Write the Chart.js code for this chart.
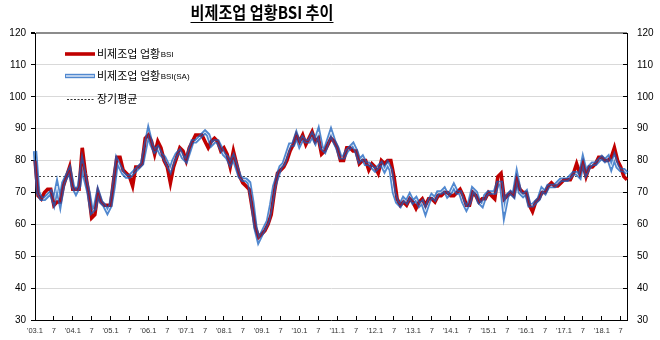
<!DOCTYPE html>
<html>
<head>
<meta charset="utf-8">
<script src="https://cdn.jsdelivr.net/npm/chart.js@4.4.1/dist/chart.umd.min.js"></script>
<style>
  html, body { margin: 0; padding: 0; background: #ffffff; }
  #wrap { width: 660px; height: 340px; position: relative; }
</style>
</head>
<body>
<div id="wrap"><canvas id="bsiChart" width="660" height="340"></canvas></div>
<script>
// Monthly series, Jan 2003 .. Sep 2018
const startYear = 2003;
const titleText = '비제조업 업황BSI 추이';

// 비제조업 업황BSI (original)
const bsi = [
  80, 69, 68, 70, 71, 71, 66, 67, 67, 72, 75, 78,   // 2003
  71, 71, 71, 84, 76, 70, 62, 63, 70, 67, 66, 66,   // 2004
  66, 74, 81, 81, 77, 76, 75, 72, 78, 78, 79, 87,   // 2005
  88, 86, 82, 86, 84, 80, 78, 73, 78, 81, 84, 83,   // 2006
  80, 84, 86, 88, 88, 88, 86, 84, 86, 87, 86, 83,   // 2007
  84, 82, 78, 83, 79, 75, 73, 72, 71, 65, 59, 56,   // 2008
  57, 58, 60, 63, 70, 76, 77, 78, 80, 83, 85, 88,   // 2009
  86, 88, 85, 87, 89, 86, 87, 82, 83, 85, 87, 86,   // 2010
  84, 80, 80, 84, 84, 83, 83, 79, 80, 80, 77, 79,   // 2011
  78, 76, 80, 79, 80, 80, 75, 68, 66, 67, 66, 68,   // 2012
  67, 65, 67, 68, 66, 68, 68, 67, 69, 69, 70, 70,   // 2013
  69, 69, 70, 71, 69, 66, 66, 70, 69, 67, 68, 68,   // 2014
  70, 69, 68, 75, 76, 68, 69, 70, 69, 74, 71, 70,   // 2015
  70, 66, 64, 67, 68, 70, 70, 72, 73, 72, 72, 73,   // 2016
  74, 74, 74, 76, 79, 76, 79, 75, 78, 78, 79, 81,   // 2017
  81, 80, 80, 81, 84, 80, 78, 75, 74                // 2018
];

// 비제조업 업황BSI (seasonally adjusted)
const bsiSA = [
  83, 70, 68, 68, 69, 70, 67, 72, 67, 73, 75, 77,   // 2003
  72, 70, 72, 79, 74, 70, 64, 65, 70, 67, 66, 64,   // 2004
  66, 72, 80, 78, 76, 75, 75, 76, 77, 78, 79, 84,   // 2005
  89, 85, 83, 84, 82, 81, 79, 77, 80, 82, 83, 81,   // 2006
  80, 83, 86, 86, 87, 88, 89, 88, 85, 86, 86, 84,   // 2007
  82, 81, 79, 81, 78, 75, 74, 74, 73, 67, 59, 55,   // 2008
  57, 59, 61, 66, 72, 75, 78, 79, 82, 85, 85, 88,   // 2009
  85, 87, 86, 86, 88, 86, 89, 84, 83, 86, 89, 86,   // 2010
  84, 81, 81, 83, 84, 85, 83, 80, 81, 79, 79, 78,   // 2011
  77, 78, 79, 77, 79, 77, 70, 67, 66, 68, 67, 69,   // 2012
  67, 68, 66, 67, 64, 67, 69, 68, 70, 70, 71, 69,   // 2013
  70, 72, 70, 70, 67, 65, 67, 71, 70, 67, 66, 69,   // 2014
  70, 70, 70, 73, 73, 64, 69, 70, 69, 75, 70, 69,   // 2015
  70, 66, 66, 67, 68, 71, 70, 72, 72, 72, 73, 74,   // 2016
  74, 74, 75, 76, 76, 75, 80, 76, 78, 79, 79, 80,   // 2017
  81, 80, 81, 78, 81, 78, 77, 77, 76                // 2018
];

// 장기평균 (long-run average level)
const longTermAvg = 75;

// y axis range and step
const yMin = 30, yMax = 120, yStep = 10;

// category labels: one per month; only January ('yy.1) and July (7) are shown
const monthLabels = [];
for (let k = 0; k < bsi.length; k++) {
  const y = startYear + Math.floor(k / 12);
  const m = (k % 12) + 1;
  if (m === 1) monthLabels.push("'" + String(y % 100).padStart(2, '0') + '.1');
  else if (m === 7) monthLabels.push('7');
  else monthLabels.push('');
}

const RED = '#C00000';
const SA_BLUE = 'rgba(20, 95, 190, 0.74)';
const KR_FONT = '"Noto Sans CJK KR", "Noto Sans", sans-serif';
const NUM_FONT = '"Liberation Sans", Arial, sans-serif';

// Datasets are drawn into their own layer: the SA line is a hollow double
// line (outer stroke with its centre cut out), the original series and the
// average line are slid underneath it, then the axes/grid go below all.
const layerPlugin = {
  id: 'layerPlugin',
  beforeDatasetsDraw(chart) {
    const cv = chart.canvas;
    const snap = document.createElement('canvas');
    snap.width = cv.width; snap.height = cv.height;
    snap.getContext('2d').drawImage(cv, 0, 0);
    this.snap = snap;
    const ctx = chart.ctx;
    ctx.save();
    ctx.setTransform(1, 0, 0, 1, 0, 0);
    ctx.clearRect(0, 0, cv.width, cv.height);
    ctx.restore();
  },
  beforeDatasetDraw(chart, args) {
    const mode = chart.data.datasets[args.index].blend;
    if (mode) chart.ctx.globalCompositeOperation = mode;
  },
  afterDatasetDraw(chart) {
    chart.ctx.globalCompositeOperation = 'source-over';
  },
  afterDatasetsDraw(chart) {
    const ctx = chart.ctx;
    ctx.save();
    ctx.setTransform(1, 0, 0, 1, 0, 0);
    ctx.globalCompositeOperation = 'destination-over';
    ctx.drawImage(this.snap, 0, 0);
    ctx.restore();
  }
};

// Underlined title
const titlePlugin = {
  id: 'titlePlugin',
  afterDraw(chart) {
    const ctx = chart.ctx;
    ctx.save();
    ctx.font = 'bold 17px ' + KR_FONT;
    ctx.fillStyle = '#000';
    ctx.textBaseline = 'alphabetic';
    const w = ctx.measureText(titleText).width;
    const target = 143;
    const sx = Math.min(1, target / w);
    const cx = 262;
    ctx.translate(cx - (w * sx) / 2, 0);
    ctx.scale(sx, 1);
    ctx.fillText(titleText, 0, 19);
    ctx.restore();
    ctx.save();
    ctx.strokeStyle = '#000';
    ctx.lineWidth = 1;
    ctx.beginPath();
    ctx.moveTo(cx - target / 2, 22.5);
    ctx.lineTo(cx + target / 2, 22.5);
    ctx.stroke();
    ctx.restore();
  }
};

// Legend inside the plot area, top-left
const legendPlugin = {
  id: 'legendPlugin',
  afterDraw(chart) {
    const ctx = chart.ctx;
    const rows = [54, 76, 99];
    const ds = chart.data.datasets.filter(d => d.legendRow !== undefined);
    ds.forEach(d => {
      const y = rows[d.legendRow];
      ctx.save();
      if (d.legendRow === 0) {
        ctx.strokeStyle = RED; ctx.lineWidth = 3.6;
        ctx.beginPath(); ctx.moveTo(65, y); ctx.lineTo(95, y); ctx.stroke();
      } else if (d.legendRow === 1) {
        ctx.strokeStyle = SA_BLUE; ctx.lineWidth = 4.4;
        ctx.beginPath(); ctx.moveTo(65, y); ctx.lineTo(95, y); ctx.stroke();
        ctx.strokeStyle = '#fff'; ctx.lineWidth = 1.2;
        ctx.beginPath(); ctx.moveTo(66, y); ctx.lineTo(94, y); ctx.stroke();
      } else {
        ctx.strokeStyle = '#333'; ctx.lineWidth = 1; ctx.setLineDash([2, 1.5]);
        ctx.beginPath(); ctx.moveTo(67, y + 0.5); ctx.lineTo(95, y + 0.5); ctx.stroke();
      }
      ctx.restore();
      const label = d.label;
      const mt = label.match(/^(.*?)(BSI.*)?$/);
      const kr = mt[1], lat = mt[2] || '';
      ctx.save();
      ctx.fillStyle = '#000';
      ctx.textBaseline = 'middle';
      ctx.font = '11px ' + KR_FONT;
      ctx.fillText(kr, 97, y);
      const kw = ctx.measureText(kr).width;
      if (lat) {
        ctx.font = '8px ' + NUM_FONT;
        ctx.fillText(lat, 97 + kw + 0.5, y + 1);
      }
      ctx.restore();
    });
  }
};

const cfg = {
  type: 'line',
  data: {
    labels: monthLabels,
    datasets: [
      { // SA series: outer stroke
        label: '비제조업 업황BSI(SA)', data: bsiSA, legendRow: 1,
        borderColor: SA_BLUE, borderWidth: 4.4, pointRadius: 0, tension: 0,
        order: 4, yAxisID: 'y'
      },
      { // SA series: hollow centre
        label: 'sa-core', data: bsiSA,
        borderColor: '#000', borderWidth: 0.8, pointRadius: 0, tension: 0,
        order: 3, blend: 'destination-out', yAxisID: 'y'
      },
      { // original series
        label: '비제조업 업황BSI', data: bsi, legendRow: 0,
        borderColor: RED, borderWidth: 3.6, pointRadius: 0, tension: 0,
        order: 2, blend: 'destination-over', yAxisID: 'y'
      },
      { // long-run average
        label: '장기평균', data: bsi.map(() => longTermAvg), legendRow: 2,
        borderColor: '#404040', borderWidth: 1, borderDash: [2, 2],
        pointRadius: 0, tension: 0,
        order: 1, blend: 'destination-over', yAxisID: 'y'
      }
    ]
  },
  options: {
    responsive: false,
    animation: false,
    devicePixelRatio: 1,
    layout: { padding: { top: 33, left: 0, right: 0, bottom: 0 } },
    plugins: { legend: { display: false }, tooltip: { enabled: false }, title: { display: false } },
    scales: {
      x: {
        type: 'category',
        offset: false,
        grid: {
          drawOnChartArea: false,
          drawTicks: true,
          tickLength: -4,
          tickColor: c => (c.index % 6 === 0 ? '#000' : 'rgba(0,0,0,0)')
        },
        border: { color: '#000', width: 1 },
        ticks: {
          autoSkip: false, maxRotation: 0, minRotation: 0,
          padding: 10,
          color: '#333',
          font: { family: NUM_FONT, size: 7.5 },
          callback: (v, i) => monthLabels[i]
        },
        afterFit: s => { s.height = 17; }
      },
      y: {
        position: 'left',
        min: yMin, max: yMax,
        ticks: { stepSize: yStep, color: '#000', padding: 5, font: { family: NUM_FONT, size: 10 } },
        grid: {
          color: c => (c.tick.value === yMax ? '#8c8c8c' : (c.tick.value === yMin ? 'rgba(0,0,0,0)' : '#d9d9d9')),
          lineWidth: c => (c.tick.value === yMax ? 2 : 1),
          tickLength: 4,
          tickColor: '#000'
        },
        border: { color: '#000', width: 1 },
        afterFit: s => { s.width = 35; }
      },
      y2: {
        position: 'right',
        min: yMin, max: yMax,
        ticks: { stepSize: yStep, color: '#000', padding: 14, font: { family: NUM_FONT, size: 10 } },
        grid: { drawOnChartArea: false, tickLength: -4, tickColor: '#000' },
        border: { color: '#000', width: 1 },
        afterFit: s => { s.width = 33; }
      }
    }
  },
  plugins: [layerPlugin, titlePlugin, legendPlugin]
};

new Chart(document.getElementById('bsiChart'), cfg);
</script>
</body>
</html>
